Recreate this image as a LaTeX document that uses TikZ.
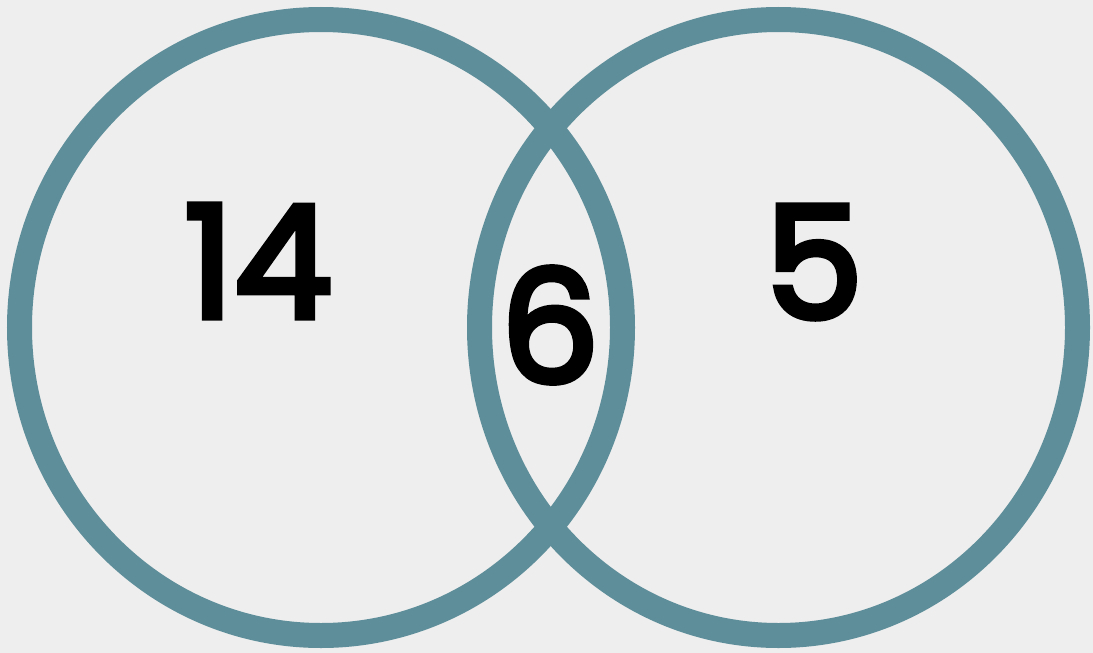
\documentclass[tikz,border=0pt]{standalone}
\usepackage{fontspec}
\setmainfont{Poppins}
\newfontfamily\numfont{Poppins}[FakeBold=4]
\definecolor{bg}{HTML}{EEEEEE}
\definecolor{ring}{HTML}{5E8E9A}
\begin{document}
\begin{tikzpicture}[x=1pt,y=-1pt,
  ringline/.style={draw=ring,line width=25pt},
  num/.style={font=\fontsize{156}{156}\numfont,text=black,inner sep=0pt,anchor=center}]
\fill[bg] (0,0) rectangle (1093,653);
\useasboundingbox (0,0) rectangle (1093,653);
\draw[ringline] (321,327.5) ellipse [x radius=301.5pt, y radius=308pt];
\draw[ringline] (778.5,327.5) ellipse [x radius=299pt, y radius=308pt];
\node[num] (a) at (258,261) {14};
\node[num] (b) at (550,325) {6};
\node[num] (c) at (814,262) {5};
\end{tikzpicture}
\end{document}
